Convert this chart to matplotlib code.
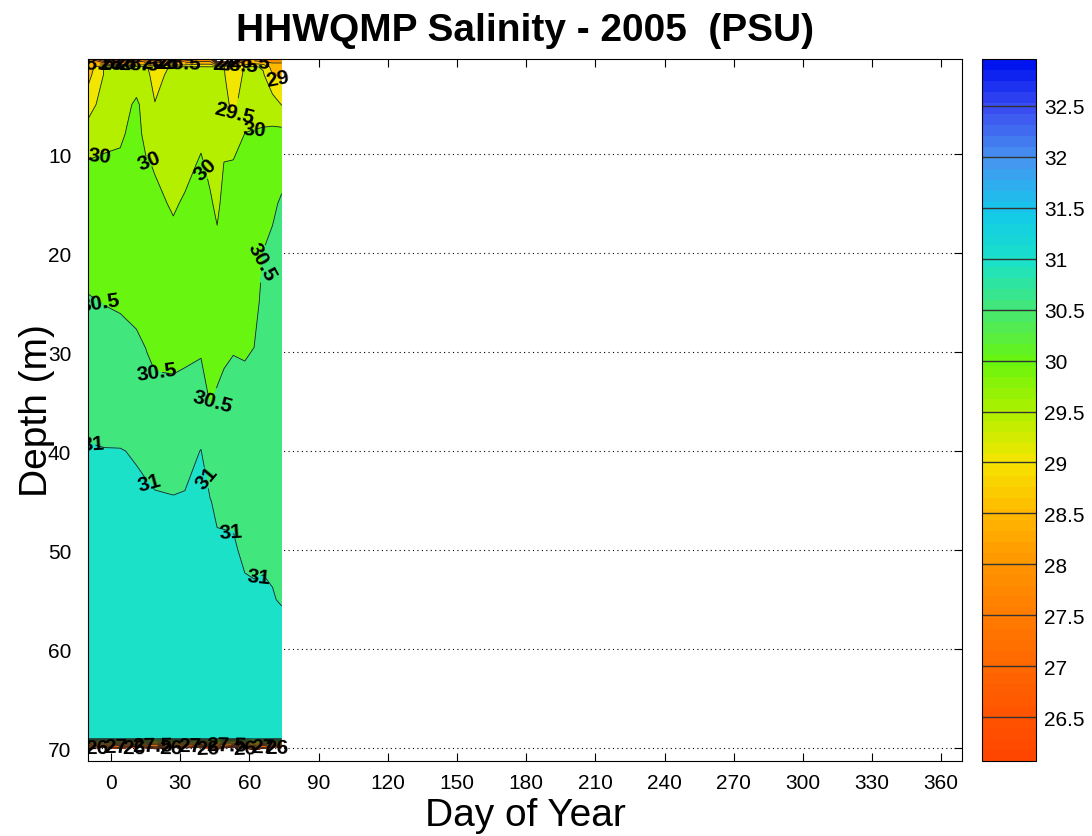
import numpy as np
import matplotlib
matplotlib.use('Agg')
import matplotlib.pyplot as plt
from matplotlib.colors import LinearSegmentedColormap, Normalize
from matplotlib.cm import ScalarMappable

plt.rcParams['font.family'] = ['Liberation Sans', 'DejaVu Sans']

# station casts (day of year) and sampled depths (m)
day = [-10, -3, 4, 11, 15, 19, 27, 32, 39, 43, 46, 49, 53, 58, 62, 66, 70, 74]
depth = [0.4, 1.2, 2, 5, 8, 11, 15, 20, 25, 30, 35, 40, 45, 50, 55, 60, 69, 71.3]

# salinity (PSU), one row per depth, one column per cast
sal_0p4 = [28.3, 26.5, 26.0, 27.0, 27.5, 27.0, 26.8, 27.5, 28.0, 28.0, 24.5, 24.0, 24.5, 27.5, 28.2, 28.0, 28.2, 28.3]
sal_1p2 = [28.70, 29.52, 29.52, 29.60, 29.58, 29.20, 29.60, 29.52, 29.53, 29.52, 29.52, 29.52, 29.10, 29.54, 29.55, 29.45, 28.80, 28.70]
sal_2 = [28.84, 29.53, 29.55, 29.68, 29.66, 29.30, 29.68, 29.54, 29.56, 29.54, 29.53, 29.53, 29.20, 29.58, 29.59, 29.55, 29.02, 28.85]
sal_5 = [29.28, 29.72, 29.75, 30.10, 29.78, 29.52, 29.72, 29.66, 29.74, 29.67, 29.62, 29.69, 29.35, 29.81, 29.84, 29.84, 29.76, 29.48]
sal_8 = [29.73, 29.91, 29.95, 30.12, 29.91, 29.76, 29.75, 29.78, 29.93, 29.79, 29.71, 29.86, 29.75, 30.01, 30.03, 30.05, 30.09, 30.16]
sal_11 = [30.04, 30.05, 30.06, 30.15, 30.04, 29.97, 29.83, 29.90, 30.04, 29.92, 29.81, 30.01, 30.04, 30.07, 30.09, 30.17, 30.24, 30.41]
sal_15 = [30.18, 30.17, 30.17, 30.23, 30.14, 30.08, 29.96, 30.04, 30.13, 30.04, 29.93, 30.10, 30.13, 30.16, 30.18, 30.32, 30.46, 30.53]
sal_20 = [30.36, 30.33, 30.31, 30.33, 30.26, 30.20, 30.12, 30.17, 30.24, 30.15, 30.09, 30.22, 30.25, 30.27, 30.29, 30.51, 30.55, 30.59]
sal_25 = [30.53, 30.49, 30.46, 30.43, 30.38, 30.31, 30.27, 30.31, 30.36, 30.26, 30.24, 30.34, 30.37, 30.37, 30.40, 30.58, 30.62, 30.64]
sal_30 = [30.72, 30.68, 30.64, 30.56, 30.51, 30.43, 30.42, 30.44, 30.47, 30.37, 30.39, 30.45, 30.49, 30.48, 30.51, 30.65, 30.68, 30.70]
sal_35 = [30.90, 30.87, 30.84, 30.77, 30.73, 30.61, 30.60, 30.63, 30.71, 30.48, 30.55, 30.60, 30.64, 30.59, 30.61, 30.73, 30.75, 30.75]
sal_40 = [31.02, 31.01, 31.01, 30.98, 30.95, 30.89, 30.84, 30.88, 31.01, 30.73, 30.75, 30.77, 30.79, 30.71, 30.72, 30.80, 30.81, 30.81]
sal_45 = [31.06, 31.06, 31.06, 31.05, 31.04, 31.03, 31.02, 31.03, 31.05, 31.01, 30.94, 30.93, 30.93, 30.83, 30.83, 30.87, 30.88, 30.86]
sal_50 = [31.11, 31.11, 31.10, 31.10, 31.09, 31.09, 31.08, 31.09, 31.10, 31.07, 31.05, 31.05, 31.04, 30.94, 30.93, 30.95, 30.94, 30.92]
sal_55 = [31.15, 31.15, 31.15, 31.15, 31.15, 31.14, 31.14, 31.14, 31.15, 31.13, 31.12, 31.12, 31.11, 31.07, 31.05, 31.05, 31.02, 30.97]
sal_60 = [31.20] * 18
sal_69 = [31.25, 31.24, 31.25, 31.26, 31.25, 31.24, 31.25, 31.25, 31.26, 31.25, 31.24, 31.25, 31.25, 31.24, 31.25, 31.25, 31.24, 31.25]
sal_71p3 = [19.0, 18.5, 19.5, 18.0, 19.0, 20.0, 18.5, 19.0, 18.0, 19.5, 20.5, 19.0, 18.0, 19.0, 21.0, 19.5, 18.5, 19.0]

salinity = np.array([sal_0p4, sal_1p2, sal_2, sal_5, sal_8, sal_11, sal_15, sal_20, sal_25, sal_30,
                     sal_35, sal_40, sal_45, sal_50, sal_55, sal_60, sal_69, sal_71p3])

levels = np.arange(26.0, 33.01, 0.5)
cbar_ticks = np.arange(26.5, 32.51, 0.5)

# orange-red (fresh) -> yellow -> green -> cyan -> blue (salty)
vmin, vmax = 26.07, 32.96
ramp_at = [vmin, 26.5, 27.0, 27.5, 28.0, 28.5, 29.0, 29.5, 30.0, 30.5, 31.0, 31.5, 32.0, 32.5, vmax]
ramp_rgb = [(255, 70, 0), (255, 85, 0), (255, 105, 0), (255, 125, 0), (255, 150, 0),
            (255, 185, 0), (245, 230, 0), (175, 240, 0), (105, 245, 15), (70, 232, 115),
            (25, 225, 200), (20, 200, 235), (70, 150, 240), (60, 80, 240), (0, 20, 240)]
cmap = LinearSegmentedColormap.from_list(
    'psu', [((v - vmin) / (vmax - vmin), tuple(c / 255 for c in rgb)) for v, rgb in zip(ramp_at, ramp_rgb)], N=64)
norm = Normalize(vmin, vmax)
band_colors = [cmap(norm(l)) for l in levels[:-1]]

fig = plt.figure(figsize=(10.92, 8.37), dpi=100)
ax = fig.add_axes([88 / 1092, 75 / 837, 874 / 1092, 702 / 837])

ax.contourf(day, depth, salinity, levels=levels, colors=band_colors, zorder=1)
cs = ax.contour(day, depth, salinity, levels=levels, colors='#222222', linewidths=0.6, zorder=2)

# where the contour labels go (day, depth)
label_spots = [(-5, 9.8), (16, 12), (40, 12.5), (62, 7.5),
               (-5, 24.8), (20, 33), (44, 35), (66, 21),
               (-8, 38), (17, 41.5), (41, 43), (52, 46), (64, 53.5),
               (53, 5), (72, 3),
               (-7, 0.8), (0, 0.8), (6, 0.8), (12, 0.8), (18, 0.8), (24, 0.8), (30, 0.8),
               (49, 0.8), (55, 1.0), (60, 0.8),
               (-6, 70.0), (2, 69.8), (10, 70.0), (18, 69.7), (26, 70.0), (34, 69.8),
               (42, 70.0), (50, 69.7), (58, 70.0), (66, 69.8), (72, 70.0)]
ax.clabel(cs, fmt='%g', fontsize=15, colors='k', inline=True, inline_spacing=2,
          manual=label_spots)
for t in cs.labelTexts:
    t.set_fontweight('bold')

ax.set_xlim(-10, 369)
ax.set_ylim(71.3, 0.4)
ax.set_xticks(range(0, 361, 30))
ax.set_yticks(range(10, 71, 10))
ax.set_axisbelow(True)
ax.yaxis.grid(True, linestyle=(0, (1, 3)), color='k', linewidth=0.8)
ax.tick_params(direction='in', top=True, right=True, labelsize=15, length=6)
ax.tick_params(axis='x', pad=9)
ax.tick_params(axis='y', pad=12)
for s in ax.spines.values():
    s.set_linewidth(0.8)

ax.set_title('HHWQMP Salinity - 2005  (PSU)', fontsize=28, fontweight='bold', pad=14)
ax.set_xlabel('Day of Year', fontsize=28, labelpad=3)
ax.set_ylabel('Depth (m)', fontsize=28, labelpad=-5)

cax = fig.add_axes([982 / 1092, 75 / 837, 54 / 1092, 702 / 837])
cb = fig.colorbar(ScalarMappable(norm=norm, cmap=cmap), cax=cax)
cb.set_ticks(cbar_ticks)
cb.set_ticklabels(['%g' % t for t in cbar_ticks])
cax.tick_params(labelsize=15, length=0, pad=6)
for t in cbar_ticks:
    cax.axhline(t, color='#333333', linewidth=1.0)
cb.outline.set_linewidth(0.8)

fig.savefig('out.png', dpi=100)
